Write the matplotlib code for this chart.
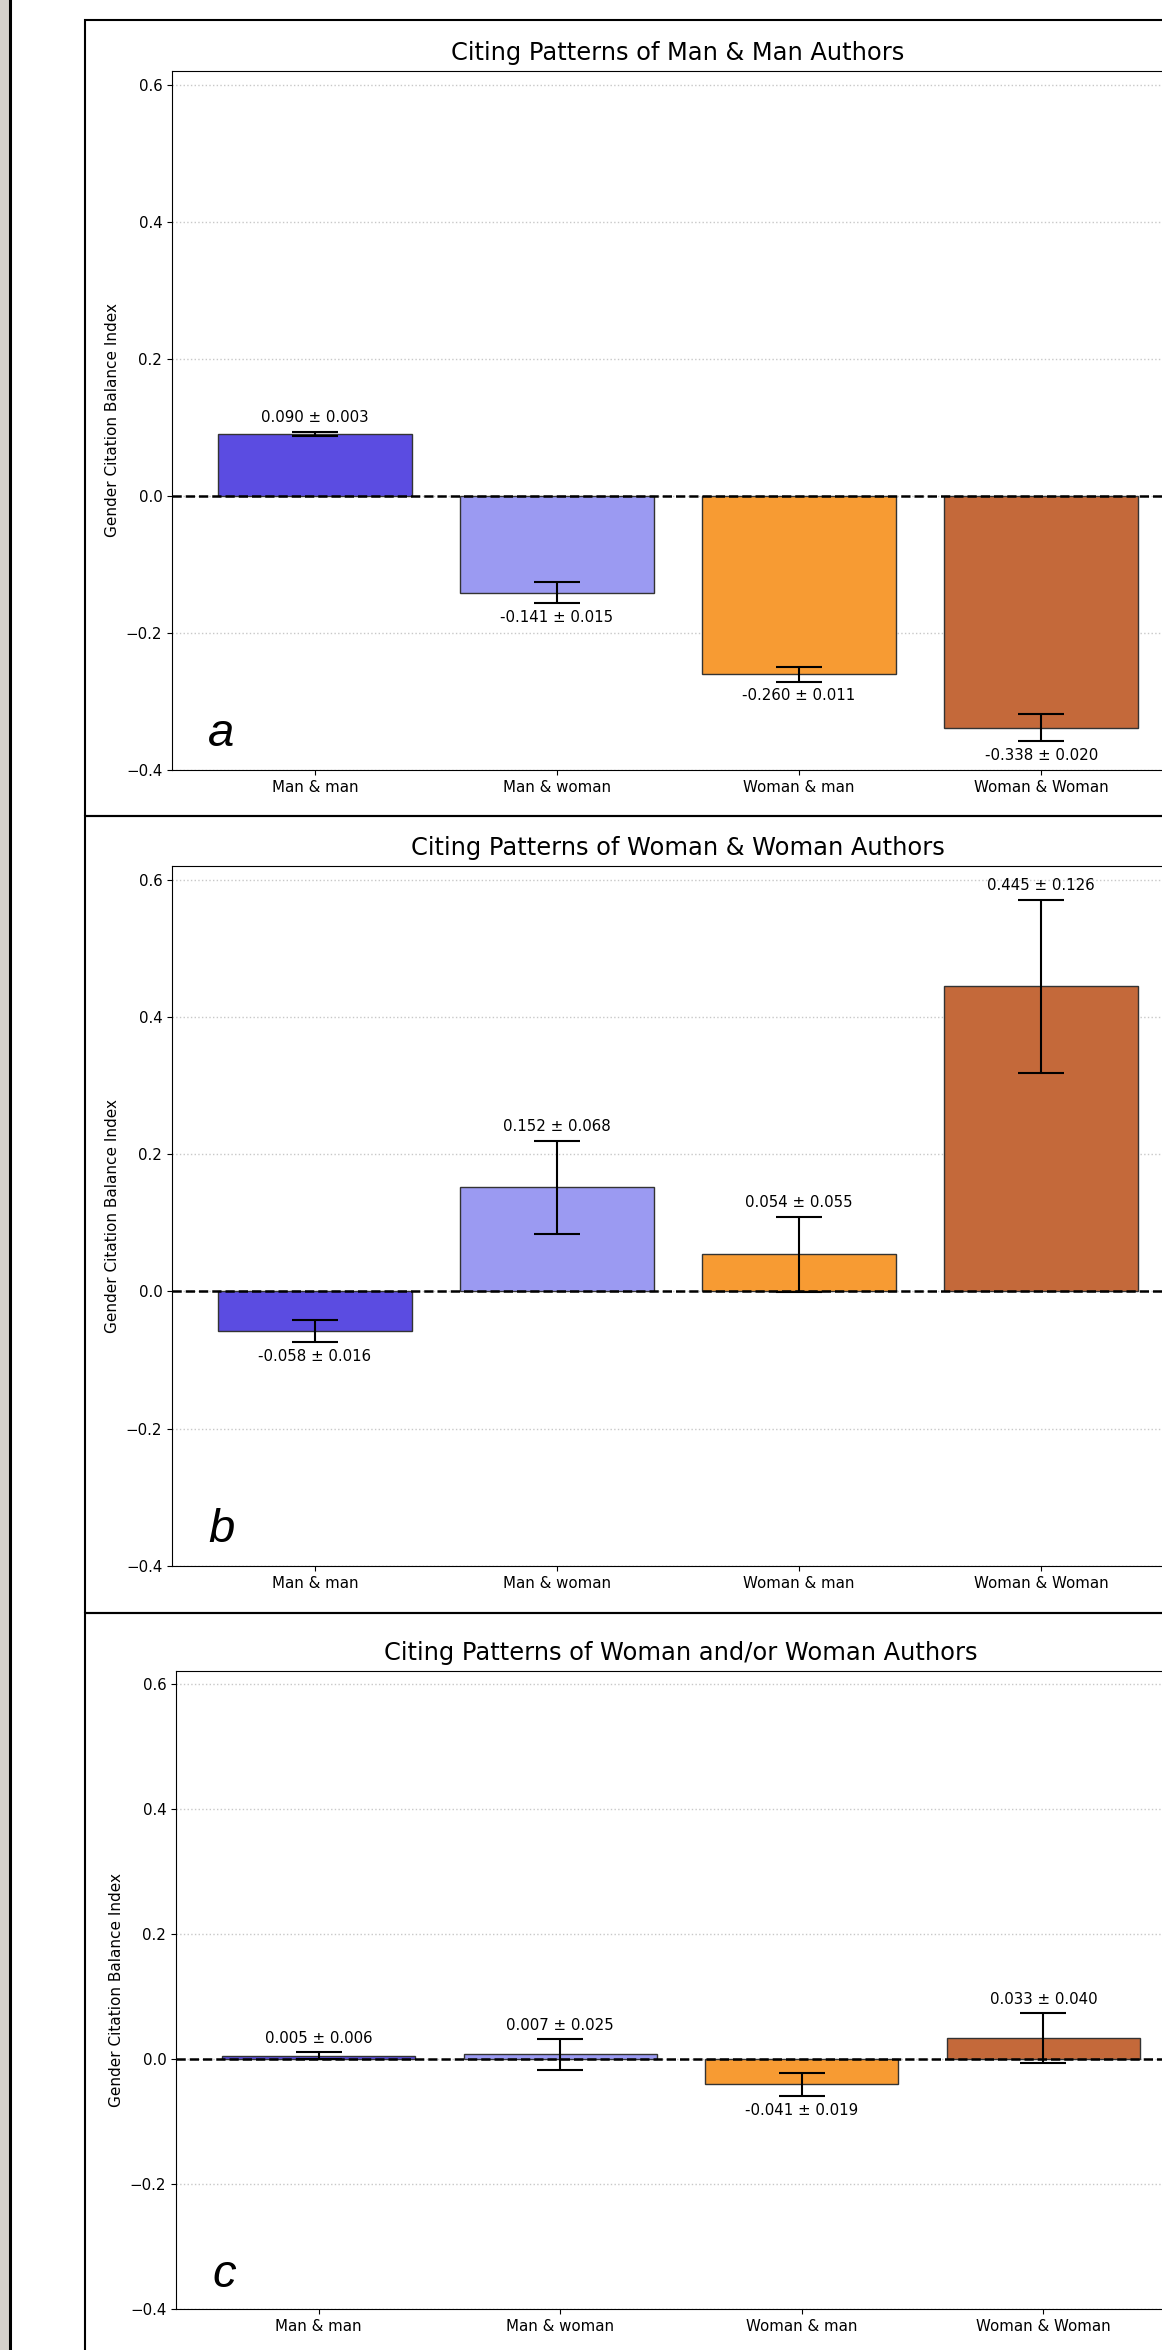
import matplotlib
matplotlib.use("Agg")
import matplotlib.pyplot as plt
from matplotlib.patches import Rectangle

# data
categories = ["Man & man", "Man & woman", "Woman & man", "Woman & Woman"]
bar_colors = ["#5b4ce1", "#9b9af2", "#f79b33", "#c4693a"]

titles = [
    "Citing Patterns of Man & Man Authors",
    "Citing Patterns of Woman & Woman Authors",
    "Citing Patterns of Woman and/or Woman Authors",
]
panel_letters = ["a", "b", "c"]

means_a = [0.090, -0.141, -0.260, -0.338]
errs_a = [0.003, 0.015, 0.011, 0.020]
means_b = [-0.058, 0.152, 0.054, 0.445]
errs_b = [0.016, 0.068, 0.055, 0.126]
means_c = [0.005, 0.007, -0.041, 0.033]
errs_c = [0.006, 0.025, 0.019, 0.040]

W, H = 1162, 2350
fig = plt.figure(figsize=(W / 100, H / 100), dpi=100)
fig.patch.set_facecolor("white")


def fx(px):
    return px / W


def fy(py):
    return 1 - py / H


# screenshot chrome on the left: grey strip and dark rule
fig.patches.append(Rectangle((0, 0), fx(8.5), 1, transform=fig.transFigure,
                             facecolor="#d5d1cc", edgecolor="none", zorder=0))
fig.lines.append(plt.Line2D([fx(9.8), fx(9.8)], [0, 1], transform=fig.transFigure,
                            color="black", lw=2.2))

# panel frames (top, bottom) in pixels; they run past the right edge
frames = [(20, 816), (816, 1612.5), (1612.5, 2500)]
for top, bot in frames:
    fig.patches.append(Rectangle((fx(84.5), fy(bot)), fx(1400) - fx(84.5), (bot - top) / H,
                                 transform=fig.transFigure, facecolor="none",
                                 edgecolor="black", lw=1.5, zorder=1))

# axes boxes (left, right, top, bottom) in pixels
boxes = [(172, 1184, 71, 770), (172, 1184, 866, 1566), (176, 1186, 1671, 2309)]
all_means = [means_a, means_b, means_c]
all_errs = [errs_a, errs_b, errs_c]

for i in range(3):
    l, r, t, b = boxes[i]
    ax = fig.add_axes([fx(l), fy(b), (r - l) / W, (b - t) / H])
    means = all_means[i]
    errs = all_errs[i]
    x = range(len(categories))

    ax.bar(x, means, width=0.8, color=bar_colors, edgecolor="#333333", linewidth=1.0, zorder=2)
    ax.errorbar(x, means, yerr=errs, fmt="none", ecolor="black", elinewidth=1.5,
                capsize=16.5, capthick=1.5, zorder=3)
    ax.axhline(0, color="black", linestyle="--", linewidth=1.8, zorder=4)

    for xi, m, e in zip(x, means, errs):
        label = f"{m:.3f} ± {e:.3f}"
        if m >= 0:
            ax.text(xi, m + e + 0.01, label, ha="center", va="bottom", fontsize=10.8)
        else:
            ax.text(xi, m - e - 0.01, label, ha="center", va="top", fontsize=10.8)

    ax.set_ylim(-0.4, 0.62)
    ax.set_xlim(-0.59, 3.59)
    ax.set_xticks(list(x))
    ax.set_xticklabels(categories, fontsize=10.8)
    ax.set_yticks([-0.4, -0.2, 0.0, 0.2, 0.4, 0.6])
    ax.tick_params(axis="y", labelsize=10.8)
    ax.set_ylabel("Gender Citation Balance Index", fontsize=11)
    ax.yaxis.grid(True, linestyle=":", color="#c8c8c8", linewidth=1.0, zorder=0)
    ax.set_axisbelow(True)
    ax.set_title(titles[i], fontsize=17.4, pad=8)
    ax.text(0.036, 0.034, panel_letters[i], transform=ax.transAxes, ha="left", va="baseline",
            fontsize=34, fontstyle="italic", family="Liberation Sans")

fig.savefig("out.png", dpi=100)
